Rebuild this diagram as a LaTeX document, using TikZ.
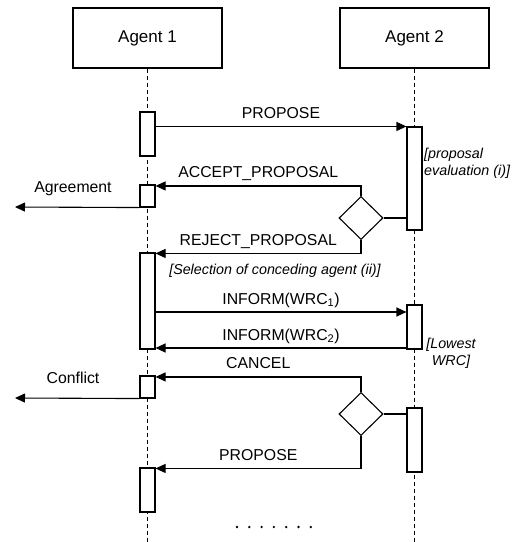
\documentclass[tikz,border=0pt]{standalone}
\usepackage{fontspec}
\setmainfont{Liberation Sans}
\usetikzlibrary{arrows.meta,shapes.geometric}

\begin{document}
\begin{tikzpicture}[x=1pt,y=-1pt,
    agent/.style={draw, line width=1.1pt, minimum width=149pt, minimum height=60pt, inner sep=0pt, font=\fontsize{17}{20}\selectfont},
    act/.style={draw, fill=white, line width=1.1pt, minimum width=15pt, inner sep=0pt},
    decision/.style={draw, diamond, fill=white, line width=1.1pt, minimum width=44pt, minimum height=43pt, inner sep=0pt},
    msg/.style={line width=1.1pt, -{Triangle[length=10pt,width=9pt]}},
    lifeline/.style={line width=1.1pt, dash pattern=on 4pt off 3pt},
    lbl/.style={font=\fontsize{15.8}{18}\selectfont, inner sep=0pt},
    msglbl/.style={lbl, anchor=base, yshift=8pt},
    note/.style={font=\fontsize{14.3}{17}\selectfont\itshape, inner sep=0pt}]
    \useasboundingbox (0,0) rectangle (513,542);

    % Agents and lifelines
    \node[agent] (ag1) at (147.5,38) {Agent 1};
    \node[agent] (ag2) at (414.5,38) {Agent 2};
    \draw[lifeline] (ag1.south) -- (ag1.south |- 0,542);
    \draw[lifeline] (ag2.south) -- (ag2.south |- 0,542);

    % Activation boxes
    % -- agent 1
    \node[act, minimum height=44pt] (act1a) at (147.5,134) {};
    \node[act, minimum height=22pt] (act1b) at (147.5,196) {};
    \node[act, minimum height=96pt] (act1c) at (147.5,301) {};
    \node[act, minimum height=22pt] (act1d) at (147.5,387) {};
    \node[act, minimum height=44pt] (act1e) at (147.5,490) {};
    % -- agent 2
    \node[act, minimum height=103pt] (act2a) at (414.5,178.5) {};
    \node[act, minimum height=44pt] (act2b) at (414.5,327) {};
    \node[act, minimum height=64pt] (act2c) at (414.5,440) {};

    % Decisions
    \node[decision] (dec1) at (361,218) {};
    \node[decision] (dec2) at (361,414) {};

    % Outgoing ends
    \coordinate (agr) at (15,207);
    \coordinate (cnf) at (15,398);

    % First proposal
    \draw[msg] (act1a.east |- act2a.north) -- (act2a.north west)
        node[msglbl, midway] {PROPOSE};
    \node[note, anchor=west, align=left] (evalnote) at (424,163) {[proposal\\evaluation (i)]};
    \draw[line width=1.1pt] (dec1.east) -- (dec1.east -| act2a.west);
    \draw[msg] (dec1.north) |- ([yshift=-1.5pt]act1b.north east)
        node[msglbl, pos=.75] {ACCEPT\_PROPOSAL};
    \draw[msg] (dec1.south) |- ([yshift=-1pt]act1c.north east)
        node[msglbl, pos=.75] {REJECT\_PROPOSAL};
    \draw[msg] (act1b.south west) -- (agr);
    \node[lbl, anchor=base] (agrlbl) at (73,192) {Agreement};

    % Conceding agent
    \node[note] (selnote) at (275,271) {[Selection of conceding agent (ii)]};
    \draw[msg] (act1c.east |- 0,312) -- (act2b.west |- 0,312)
        node[msglbl, midway] {INFORM(WRC\textsubscript{1})};
    \draw[msg] (act2b.west |- 0,348) -- (act1c.east |- 0,348)
        node[msglbl, midway] {INFORM(WRC\textsubscript{2})};
    \node[note, align=center] (wrcnote) at (451,353) {[Lowest\\WRC]};

    % Second decision
    \draw[line width=1.1pt] (dec2.east) -- (dec2.east -| act2c.west);
    \draw[msg] (dec2.north) |- ([yshift=-1.5pt]act1d.north east)
        node[msglbl, pos=.75] {CANCEL};
    \draw[msg] (dec2.south) |- ([yshift=-1pt]act1e.north east)
        node[msglbl, pos=.75] {PROPOSE};
    \draw[msg] (act1d.south west) -- (cnf);
    \node[lbl, anchor=base] (cnflbl) at (73,383) {Conflict};

    % Continuation
    \foreach \i in {0,...,6}
        \fill (237+12.3*\i,527) circle (1.3pt);
\end{tikzpicture}
\end{document}
